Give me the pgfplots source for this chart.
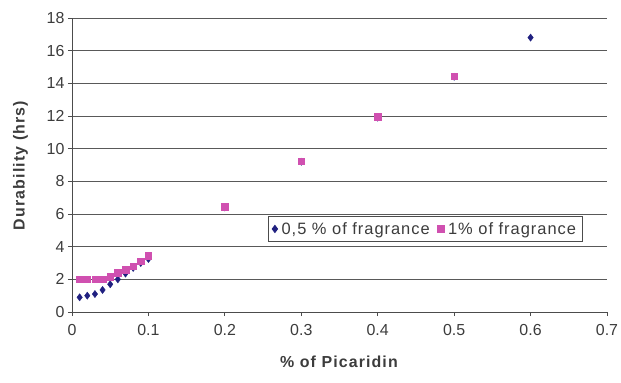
\documentclass[border=0pt]{standalone}
\usepackage{fontspec}
\setmainfont{Liberation Sans}
\usepackage{pgfplots}
\pgfplotsset{compat=1.18}
\definecolor{navyd}{RGB}{32,32,128}
\definecolor{pinkd}{RGB}{208,80,176}
\definecolor{txt}{RGB}{60,60,60}
\begin{document}
\begin{tikzpicture}
\begin{axis}[
  scale only axis,
  width=535bp, height=294bp,
  xmin=0, xmax=0.7, ymin=0, ymax=18,
  xtick={0,0.1,...,0.7},
  ytick={0,2,...,18},
  axis lines=left,
  axis line style={-, black!70, line width=0.8pt},
  tick align=outside,
  major tick length=4bp,
  tick style={black!70, line width=0.8pt},
  ymajorgrids,
  grid style={black!65, line width=0.9pt},
  /pgf/number format/assume math mode=true,
  xticklabel style={font=\fontsize{16}{18}\selectfont, text=txt, yshift=-5bp, /pgf/number format/fixed, /pgf/number format/precision=1},
  yticklabel style={font=\fontsize{16}{18}\selectfont, text=txt},
  xlabel={\textbf{\addfontfeature{LetterSpace=7}\% of Picaridin}},
  ylabel={\textbf{\addfontfeature{LetterSpace=7}Durability (hrs)}},
  label style={font=\fontsize{16}{18}\selectfont, text=txt},
  xlabel style={yshift=-13bp},
  ylabel style={yshift=12bp},
  legend style={at={(rel axis cs:0.366,0.327)}, anchor=north west, draw=black!70, line width=0.8pt,
    font=\fontsize{16.5}{19}\selectfont\addfontfeature{LetterSpace=6}, text=txt, legend columns=2, inner ysep=4bp, inner xsep=4bp,
    /tikz/every even column/.append style={column sep=6bp},
    /tikz/every odd column/.append style={column sep=2bp}},
  legend cell align=left,
]
\addplot[only marks, mark=diamond*, mark size=3.6bp, color=navyd] coordinates {
 (0.01,0.9) (0.02,1.0) (0.03,1.1) (0.04,1.35) (0.05,1.7) (0.06,2.0) (0.07,2.35) (0.08,2.7) (0.09,3.0) (0.1,3.25)
 (0.2,6.4) (0.3,9.2) (0.4,11.9) (0.5,14.4) (0.6,16.8)
};
\addlegendentry{0,5 \% of fragrance}
\addplot[only marks, mark=square*, mark size=3.2bp, color=pinkd] coordinates {
 (0.01,2.0) (0.02,2.0) (0.03,2.0) (0.04,2.0) (0.05,2.15) (0.06,2.4) (0.07,2.6) (0.08,2.8) (0.09,3.1) (0.1,3.45)
 (0.2,6.45) (0.3,9.25) (0.4,11.95) (0.5,14.45)
};
\addlegendentry{1\% of fragrance}
\end{axis}
\pgfresetboundingbox
\path[use as bounding box] ([shift={(-72bp,-71bp)}]current axis.south west) rectangle ([shift={(14bp,18bp)}]current axis.north east);
\end{tikzpicture}
\end{document}
